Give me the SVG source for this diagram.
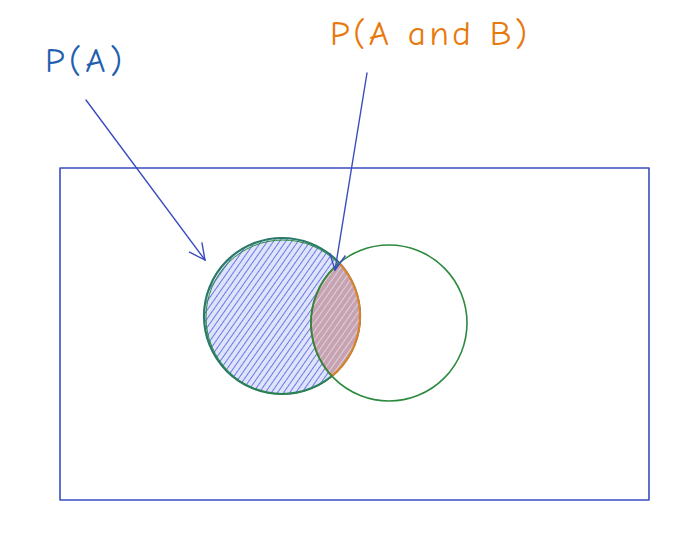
<svg xmlns="http://www.w3.org/2000/svg" width="691" height="536" viewBox="0 0 691 536">
<style>
.lbl{font-family:"Comic Neue","Liberation Sans",sans-serif;font-size:35px}
.line{fill:none;stroke-linecap:round;stroke-linejoin:round}
</style>
<defs>
<pattern id="hatchA" patternUnits="userSpaceOnUse" width="5" height="5" patternTransform="rotate(-55)">
<rect width="5" height="5" fill="#dfe3fb"/>
<line x1="0" y1="2.5" x2="5" y2="2.5" stroke="#5c6fe0" stroke-width="0.9"/>
</pattern>
<pattern id="hatchB" patternUnits="userSpaceOnUse" width="5" height="5" patternTransform="rotate(-55)">
<rect width="5" height="5" fill="#c6a3ae"/>
<line x1="0" y1="2.5" x2="5" y2="2.5" stroke="#e3d3e6" stroke-width="0.9"/>
</pattern>
<clipPath id="clipA"><circle cx="282" cy="316" r="78"/></clipPath>
<marker id="arr" viewBox="0 0 20 20" refX="18" refY="10" markerWidth="20" markerHeight="20" markerUnits="userSpaceOnUse" orient="auto">
<path d="M2,2 L18,10 L2,18" fill="none" stroke="#3b4cc0" stroke-width="1.4"/>
</marker>
</defs>
<rect width="691" height="536" fill="#ffffff"/>
<g id="frame">
<rect x="60" y="168" width="589" height="332" class="line" stroke="#3b4cc0" stroke-width="1.6"/>
</g>
<g id="circleA">
<circle cx="282" cy="316" r="78" fill="url(#hatchA)" stroke="#2a7a6a" stroke-width="2.2"/>
<circle cx="283" cy="317" r="77" fill="none" stroke="#2b8a3e" stroke-width="1"/>
</g>
<g id="intersection">
<circle cx="389" cy="323" r="78" fill="url(#hatchB)" clip-path="url(#clipA)" stroke="none"/>
<path d="M339.2,262.9 A78,78 0 0 1 331.8,376.1" fill="none" stroke="#d9822b" stroke-width="2.2"/>
<path d="M339.2,262.9 A78,78 0 0 0 331.8,376.1" fill="none" stroke="#8a6a3a" stroke-width="1.8"/>
</g>
<g id="circleB">
<circle cx="389" cy="323" r="78" fill="none" stroke="#2b8a3e" stroke-width="1.6"/>
</g>
<g id="connectors">
<path d="M86,100 L205,260" class="line" stroke="#3b4cc0" stroke-width="1.4" marker-end="url(#arr)"/>
<path d="M367,73 L335,270" class="line" stroke="#3b4cc0" stroke-width="1.4" marker-end="url(#arr)"/>
</g>
<g id="labels">
<text x="45" y="72" class="lbl" fill="#1f5fae" textLength="77" lengthAdjust="spacing">P(A)</text>
<text x="330" y="45" class="lbl" fill="#e8790c" textLength="197" lengthAdjust="spacing">P(A and B)</text>
</g>
</svg>
